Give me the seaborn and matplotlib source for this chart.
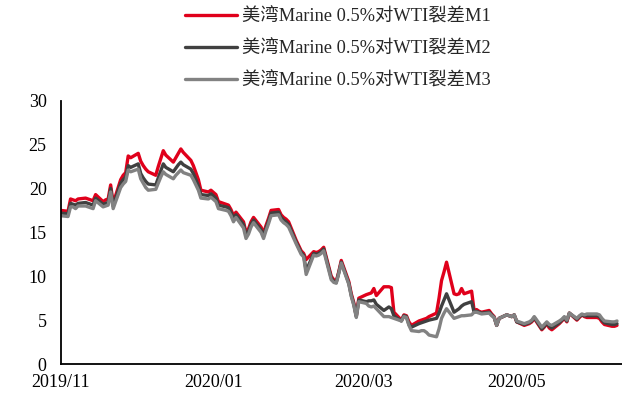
import matplotlib
matplotlib.use("Agg")
import matplotlib.pyplot as plt
import numpy as np
import pandas as pd
import seaborn as sns

# Trading days and the three Marine 0.5% vs WTI spread series (USD/bbl)
dates = [
    "2019-11-01", "2019-11-04", "2019-11-05", "2019-11-06", "2019-11-07", "2019-11-08",
    "2019-11-11", "2019-11-12", "2019-11-13", "2019-11-14", "2019-11-15", "2019-11-18",
    "2019-11-19", "2019-11-20", "2019-11-21", "2019-11-22", "2019-11-25", "2019-11-26",
    "2019-11-27", "2019-11-28", "2019-11-29", "2019-12-02", "2019-12-03", "2019-12-04",
    "2019-12-05", "2019-12-06", "2019-12-09", "2019-12-10", "2019-12-11", "2019-12-12",
    "2019-12-13", "2019-12-16", "2019-12-17", "2019-12-18", "2019-12-19", "2019-12-20",
    "2019-12-23", "2019-12-24", "2019-12-26", "2019-12-27", "2019-12-30", "2019-12-31",
    "2020-01-02", "2020-01-03", "2020-01-06", "2020-01-07", "2020-01-08", "2020-01-09",
    "2020-01-10", "2020-01-13", "2020-01-14", "2020-01-15", "2020-01-16", "2020-01-17",
    "2020-01-20", "2020-01-21", "2020-01-22", "2020-01-23", "2020-01-24", "2020-01-27",
    "2020-01-28", "2020-01-29", "2020-01-30", "2020-01-31", "2020-02-03", "2020-02-04",
    "2020-02-05", "2020-02-06", "2020-02-07", "2020-02-10", "2020-02-11", "2020-02-12",
    "2020-02-13", "2020-02-14", "2020-02-17", "2020-02-18", "2020-02-19", "2020-02-20",
    "2020-02-21", "2020-02-24", "2020-02-25", "2020-02-26", "2020-02-27", "2020-02-28",
    "2020-03-02", "2020-03-03", "2020-03-04", "2020-03-05", "2020-03-06", "2020-03-09",
    "2020-03-10", "2020-03-11", "2020-03-12", "2020-03-13", "2020-03-16", "2020-03-17",
    "2020-03-18", "2020-03-19", "2020-03-20", "2020-03-23", "2020-03-24", "2020-03-25",
    "2020-03-26", "2020-03-27", "2020-03-30", "2020-03-31", "2020-04-01", "2020-04-02",
    "2020-04-03", "2020-04-06", "2020-04-07", "2020-04-08", "2020-04-09", "2020-04-10",
    "2020-04-13", "2020-04-14", "2020-04-15", "2020-04-16", "2020-04-17", "2020-04-20",
    "2020-04-21", "2020-04-22", "2020-04-23", "2020-04-24", "2020-04-27", "2020-04-28",
    "2020-04-29", "2020-04-30", "2020-05-01", "2020-05-04", "2020-05-05", "2020-05-06",
    "2020-05-07", "2020-05-08", "2020-05-11", "2020-05-12", "2020-05-13", "2020-05-14",
    "2020-05-15", "2020-05-18", "2020-05-19", "2020-05-20", "2020-05-21", "2020-05-22",
    "2020-05-25", "2020-05-26", "2020-05-27", "2020-05-28", "2020-05-29", "2020-06-01",
    "2020-06-02", "2020-06-03", "2020-06-04", "2020-06-05", "2020-06-08", "2020-06-09",
    "2020-06-10",
]

m1 = [
    17.5, 17.4, 18.8, 18.7, 18.6, 18.8,
    18.9, 18.8, 18.7, 18.6, 19.3, 18.5,
    18.7, 18.8, 20.4, 18.3, 21.0, 21.5,
    21.8, 23.7, 23.5, 24.0, 23.1, 22.6,
    22.2, 21.9, 21.5, 22.5, 23.4, 24.3,
    23.8, 23.0, 23.5, 24.0, 24.5, 24.1,
    23.2, 22.6, 21.0, 19.8, 19.6, 19.8,
    19.3, 18.5, 18.2, 18.1, 17.6, 16.9,
    17.3, 16.2, 15.0, 15.4, 16.2, 16.7,
    15.6, 14.9, 15.8, 16.6, 17.5, 17.6,
    17.0, 16.7, 16.5, 16.2, 14.1, 13.5,
    12.9, 12.6, 11.9, 12.8, 12.7, 12.8,
    13.0, 13.3, 10.0, 9.6, 9.4, 10.5,
    11.8, 9.4, 8.0, 7.0, 5.5, 7.5,
    7.9, 8.0, 8.1, 8.6, 7.8, 8.8,
    8.8, 8.8, 8.7, 5.9, 5.0, 5.6,
    5.5, 4.8, 4.4, 4.9, 5.0, 5.1,
    5.2, 5.4, 5.8, 7.5, 9.5, 10.5,
    11.6, 8.0, 7.9, 8.0, 8.6, 8.0,
    8.3, 6.1, 6.2, 6.0, 5.9, 6.1,
    5.7, 5.4, 4.4, 5.2, 5.6, 5.5,
    5.4, 5.6, 4.8, 4.4, 4.5, 4.6,
    4.8, 5.2, 3.9, 4.2, 4.6, 4.1,
    3.9, 4.6, 4.9, 5.2, 4.8, 5.8,
    5.0, 5.3, 5.6, 5.4, 5.3, 5.3,
    5.3, 5.2, 4.8, 4.5, 4.3, 4.3,
    4.4,
]

m2 = [
    17.2, 17.1, 18.3, 18.2, 18.1, 18.3,
    18.4, 18.3, 18.2, 18.1, 18.9, 18.2,
    18.3, 18.4, 20.0, 18.0, 20.6, 21.0,
    21.3, 22.6, 22.4, 22.8, 21.7, 21.2,
    20.8, 20.5, 20.4, 21.2, 22.0, 22.8,
    22.4, 21.9, 22.3, 22.7, 23.0, 22.7,
    22.2, 21.7, 20.3, 19.3, 19.2, 19.4,
    18.9, 18.1, 17.9, 17.8, 17.3, 16.6,
    17.0, 15.9, 14.7, 15.1, 15.9, 16.4,
    15.3, 14.6, 15.5, 16.3, 17.2, 17.3,
    16.7, 16.4, 16.2, 15.9, 13.9, 13.3,
    12.7, 12.4, 10.6, 12.6, 12.5, 12.6,
    12.8, 13.1, 9.8, 9.4, 9.3, 10.4,
    11.6, 9.2, 7.8, 6.8, 5.4, 7.3,
    7.1, 7.2, 7.2, 7.3, 6.8, 6.1,
    6.3, 6.5, 6.3, 5.5, 4.9, 5.5,
    5.4, 4.5, 4.2, 4.6, 4.7, 4.8,
    4.9, 5.0, 5.2, 5.8, 6.6, 7.3,
    8.0, 5.9, 6.1, 6.3, 6.6, 6.8,
    7.1, 5.9, 6.0, 5.9, 5.8, 5.9,
    5.6, 5.3, 4.4, 5.2, 5.6, 5.5,
    5.4, 5.6, 4.8, 4.5, 4.6, 4.7,
    4.9, 5.3, 4.0, 4.3, 4.7, 4.3,
    4.1, 4.7, 5.0, 5.3, 4.9, 5.8,
    5.1, 5.4, 5.6, 5.5, 5.5, 5.5,
    5.5, 5.4, 5.0, 4.7, 4.5, 4.5,
    4.6,
]

m3 = [
    16.9, 16.8, 17.9, 17.9, 17.7, 18.0,
    18.0, 17.9, 17.8, 17.7, 18.6, 17.9,
    18.0, 18.1, 19.6, 17.7, 20.1, 20.5,
    20.8, 22.1, 21.9, 22.2, 21.1, 20.6,
    20.1, 19.8, 19.9, 20.6, 21.3, 21.9,
    21.6, 21.1, 21.5, 21.8, 22.1, 21.8,
    21.5, 21.0, 19.8, 18.9, 18.8, 19.0,
    18.5, 17.7, 17.5, 17.4, 16.9, 16.2,
    16.7, 15.5, 14.3, 14.8, 15.6, 16.1,
    15.0, 14.3, 15.2, 16.0, 16.9, 17.0,
    16.4, 16.1, 15.9, 15.6, 13.7, 13.1,
    12.5, 12.2, 10.2, 12.4, 12.3, 12.4,
    12.6, 12.9, 9.6, 9.3, 9.2, 10.3,
    11.5, 9.1, 7.7, 6.7, 5.3, 7.1,
    6.9, 6.6, 6.5, 6.6, 6.3, 5.4,
    5.4, 5.4, 5.3, 5.2, 4.9, 5.4,
    5.3, 4.4, 3.8, 3.7, 3.8, 3.8,
    3.6, 3.3, 3.1, 4.0, 5.2, 5.8,
    6.3, 5.2, 5.3, 5.4, 5.5, 5.5,
    5.6, 5.9, 5.9, 5.8, 5.7, 5.8,
    5.5, 5.3, 4.4, 5.2, 5.6, 5.5,
    5.4, 5.6, 4.9, 4.6, 4.7, 4.8,
    5.0, 5.4, 4.2, 4.5, 4.8, 4.5,
    4.4, 4.9, 5.1, 5.4, 5.0, 5.8,
    5.2, 5.5, 5.7, 5.6, 5.7, 5.7,
    5.7, 5.6, 5.2, 4.9, 4.8, 4.8,
    4.9,
]

series_names = [
    "美湾Marine 0.5%对WTI裂差M1",
    "美湾Marine 0.5%对WTI裂差M2",
    "美湾Marine 0.5%对WTI裂差M3",
]
series_colors = ["#E0001B", "#404040", "#828282"]

tick_dates = ["2019-11-01", "2020-01-01", "2020-03-01", "2020-05-01"]
tick_labels = ["2019/11", "2020/01", "2020/03", "2020/05"]
y_ticks = [0, 5, 10, 15, 20, 25, 30]

# Long-form table for seaborn
frames = []
for name, vals in zip(series_names, [m1, m2, m3]):
    frames.append(pd.DataFrame({
        "date": pd.to_datetime(dates),
        "value": vals,
        "series": name,
    }))
df = pd.concat(frames, ignore_index=True)

sns.set_style("white")
plt.rcParams["font.family"] = ["Liberation Serif", "Noto Sans CJK SC"]
plt.rcParams["axes.unicode_minus"] = False

fig = plt.figure(figsize=(6.22, 3.99), dpi=100)
ax = fig.add_axes([0.0973, 0.0877, 0.9027, 0.66])

sns.lineplot(
    data=df, x="date", y="value", hue="series",
    hue_order=series_names, palette=series_colors,
    linewidth=2.4, ax=ax, legend=True,
)

handles, labels = ax.get_legend_handles_labels()
ax.get_legend().remove()
fig.legend(
    handles, labels, loc="upper left", bbox_to_anchor=(0.292, 0.988),
    frameon=False, fontsize=13.2, handlelength=2.8, handletextpad=0.32,
    labelspacing=0.8, borderaxespad=0.0, borderpad=0.2,
)

ax.set_ylim(0, 30)
ax.set_yticks(y_ticks)
ax.set_xlim(pd.Timestamp("2019-11-01"), pd.Timestamp("2020-06-12"))
ax.set_xticks(pd.to_datetime(tick_dates))
ax.set_xticklabels(tick_labels)
ax.set_xlabel("")
ax.set_ylabel("")

for side in ["top", "right"]:
    ax.spines[side].set_visible(False)
for side in ["left", "bottom"]:
    ax.spines[side].set_color("black")
    ax.spines[side].set_linewidth(1.3)

ax.tick_params(axis="both", which="major", direction="out", length=4,
               width=1.2, color="black", labelsize=13, labelcolor="black")
ax.tick_params(axis="y", pad=6)
ax.tick_params(axis="x", pad=3)

fig.savefig("out.png", dpi=100)
